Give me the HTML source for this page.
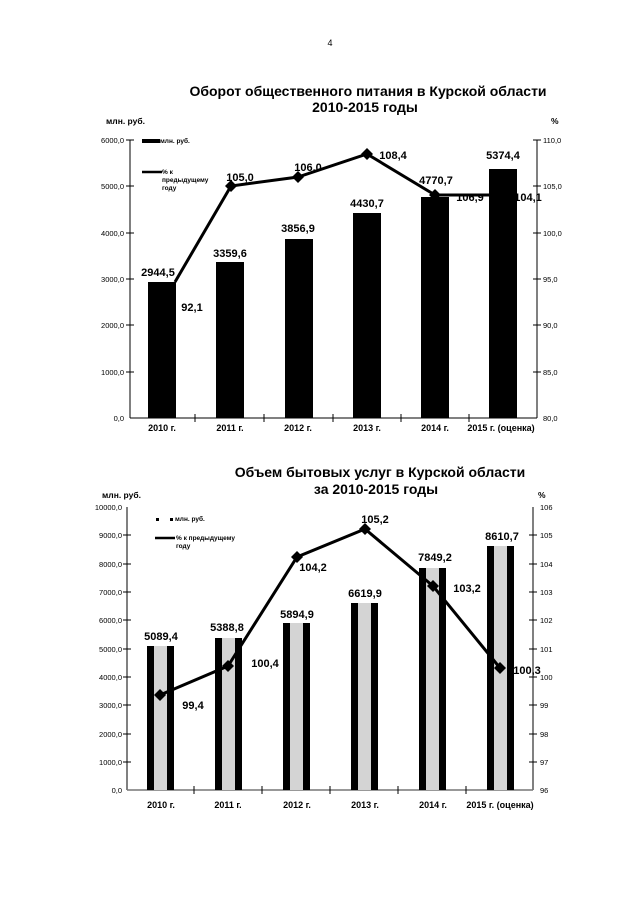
<!DOCTYPE html>
<html><head><meta charset="utf-8"><style>
html,body{margin:0;padding:0;background:#fff;}
svg{display:block;font-family:"Liberation Sans",Arial,sans-serif;}
.t{font-weight:bold;font-size:14px;text-anchor:middle;}
.ax{font-size:7.5px;}
.l{font-weight:bold;font-size:11px;text-anchor:middle;}
.c{font-weight:bold;font-size:9px;text-anchor:middle;}
</style></head><body>
<svg width="640" height="905" viewBox="0 0 640 905">
<text x="330" y="46" font-size="9" text-anchor="middle">4</text>

<!-- Chart 1 -->
<text class="t" x="368" y="96">Оборот общественного питания в Курской области</text>
<text class="t" x="365" y="112">2010-2015 годы</text>
<text x="106" y="124" font-size="8.5" font-weight="bold">млн. руб.</text>
<text x="551" y="124" font-size="8.5" font-weight="bold">%</text>
<g stroke="#000" stroke-width="1">
<line x1="130" y1="140" x2="130" y2="418"/>
<line x1="537" y1="140" x2="537" y2="418"/>
<line x1="130" y1="418" x2="537" y2="418"/>
</g>
<g class="ax" text-anchor="end">
<text x="124" y="143">6000,0</text><text x="124" y="189">5000,0</text><text x="124" y="236">4000,0</text><text x="124" y="282">3000,0</text><text x="124" y="328">2000,0</text><text x="124" y="375">1000,0</text><text x="124" y="421">0,0</text>
</g>
<g class="ax">
<text x="543" y="143">110,0</text><text x="543" y="189">105,0</text><text x="543" y="236">100,0</text><text x="543" y="282">95,0</text><text x="543" y="328">90,0</text><text x="543" y="375">85,0</text><text x="543" y="421">80,0</text>
</g>
<g stroke="#000" stroke-width="1">
<line x1="126" y1="140" x2="134" y2="140"/><line x1="126" y1="186" x2="134" y2="186"/><line x1="126" y1="233" x2="134" y2="233"/><line x1="126" y1="279" x2="134" y2="279"/><line x1="126" y1="325" x2="134" y2="325"/><line x1="126" y1="372" x2="134" y2="372"/>
<line x1="533" y1="140" x2="541" y2="140"/><line x1="533" y1="186" x2="541" y2="186"/><line x1="533" y1="233" x2="541" y2="233"/><line x1="533" y1="279" x2="541" y2="279"/><line x1="533" y1="325" x2="541" y2="325"/><line x1="533" y1="372" x2="541" y2="372"/>
<line x1="195" y1="414" x2="195" y2="422"/><line x1="264" y1="414" x2="264" y2="422"/><line x1="333" y1="414" x2="333" y2="422"/><line x1="401" y1="414" x2="401" y2="422"/><line x1="469" y1="414" x2="469" y2="422"/>
</g>
<g fill="#000">
<rect x="148" y="282" width="28" height="136"/>
<rect x="216" y="262" width="28" height="156"/>
<rect x="285" y="239" width="28" height="179"/>
<rect x="353" y="213" width="28" height="205"/>
<rect x="421" y="197" width="28" height="221"/>
<rect x="489" y="169" width="28" height="249"/>
</g>
<polyline points="175,282 231,186 298,177 367,154 435,195 505,195" fill="none" stroke="#000" stroke-width="3"/>
<g fill="#000">
<path d="M231,180 l6,6 -6,6 -6,-6z"/><path d="M298,171 l6,6 -6,6 -6,-6z"/><path d="M367,148 l6,6 -6,6 -6,-6z"/><path d="M435,189 l6,6 -6,6 -6,-6z"/>
</g>
<rect x="142" y="139" width="18" height="4" fill="#000"/>
<text x="160" y="143" font-size="6.5" font-weight="bold">млн. руб.</text>
<line x1="142" y1="172" x2="162" y2="172" stroke="#000" stroke-width="2.5"/>
<text x="162" y="174" font-size="6.5" font-weight="bold">% к</text>
<text x="162" y="182" font-size="6.5" font-weight="bold">предыдущему</text>
<text x="162" y="190" font-size="6.5" font-weight="bold">году</text>
<g class="l">
<text x="158" y="276">2944,5</text><text x="192" y="311">92,1</text>
<text x="230" y="257">3359,6</text><text x="240" y="181">105,0</text>
<text x="298" y="232">3856,9</text><text x="308" y="171">106,0</text>
<text x="367" y="207">4430,7</text><text x="393" y="159">108,4</text>
<text x="436" y="184">4770,7</text><text x="470" y="201">106,9</text>
<text x="503" y="159">5374,4</text><text x="528" y="201">104,1</text>
</g>
<g class="c">
<text x="162" y="431">2010 г.</text><text x="230" y="431">2011 г.</text><text x="298" y="431">2012 г.</text><text x="367" y="431">2013 г.</text><text x="435" y="431">2014 г.</text><text x="501" y="431">2015 г. (оценка)</text>
</g>

<!-- Chart 2 -->
<text class="t" x="380" y="477">Объем бытовых услуг в Курской области</text>
<text class="t" x="376" y="494">за 2010-2015 годы</text>
<text x="102" y="498" font-size="8.5" font-weight="bold">млн. руб.</text>
<text x="538" y="498" font-size="8.5" font-weight="bold">%</text>
<g stroke="#000" stroke-width="1">
<line x1="127" y1="507" x2="127" y2="790"/>
<line x1="533" y1="507" x2="533" y2="790"/>
<line x1="127" y1="790" x2="533" y2="790" stroke="#777" stroke-width="1.5"/>
</g>
<g class="ax" text-anchor="end">
<text x="122" y="510">10000,0</text><text x="122" y="538">9000,0</text><text x="122" y="567">8000,0</text><text x="122" y="595">7000,0</text><text x="122" y="623">6000,0</text><text x="122" y="652">5000,0</text><text x="122" y="680">4000,0</text><text x="122" y="708">3000,0</text><text x="122" y="737">2000,0</text><text x="122" y="765">1000,0</text><text x="122" y="793">0,0</text>
</g>
<g class="ax">
<text x="540" y="510">106</text><text x="540" y="538">105</text><text x="540" y="567">104</text><text x="540" y="595">103</text><text x="540" y="623">102</text><text x="540" y="652">101</text><text x="540" y="680">100</text><text x="540" y="708">99</text><text x="540" y="737">98</text><text x="540" y="765">97</text><text x="540" y="793">96</text>
</g>
<g stroke="#000" stroke-width="1">
<line x1="123" y1="535" x2="131" y2="535"/><line x1="123" y1="564" x2="131" y2="564"/><line x1="123" y1="592" x2="131" y2="592"/><line x1="123" y1="620" x2="131" y2="620"/><line x1="123" y1="649" x2="131" y2="649"/><line x1="123" y1="677" x2="131" y2="677"/><line x1="123" y1="705" x2="131" y2="705"/><line x1="123" y1="734" x2="131" y2="734"/><line x1="123" y1="762" x2="131" y2="762"/>
<line x1="529" y1="535" x2="537" y2="535"/><line x1="529" y1="564" x2="537" y2="564"/><line x1="529" y1="592" x2="537" y2="592"/><line x1="529" y1="620" x2="537" y2="620"/><line x1="529" y1="649" x2="537" y2="649"/><line x1="529" y1="677" x2="537" y2="677"/><line x1="529" y1="705" x2="537" y2="705"/><line x1="529" y1="734" x2="537" y2="734"/><line x1="529" y1="762" x2="537" y2="762"/>
<line x1="194" y1="786" x2="194" y2="794"/><line x1="262" y1="786" x2="262" y2="794"/><line x1="330" y1="786" x2="330" y2="794"/><line x1="398" y1="786" x2="398" y2="794"/><line x1="466" y1="786" x2="466" y2="794"/>
</g>
<g>
<rect x="147" y="646" width="27" height="144" fill="#d4d4d4"/><rect x="147" y="646" width="7" height="144"/><rect x="167" y="646" width="7" height="144"/>
<rect x="215" y="638" width="27" height="152" fill="#d4d4d4"/><rect x="215" y="638" width="7" height="152"/><rect x="235" y="638" width="7" height="152"/>
<rect x="283" y="623" width="27" height="167" fill="#d4d4d4"/><rect x="283" y="623" width="7" height="167"/><rect x="303" y="623" width="7" height="167"/>
<rect x="351" y="603" width="27" height="187" fill="#d4d4d4"/><rect x="351" y="603" width="7" height="187"/><rect x="371" y="603" width="7" height="187"/>
<rect x="419" y="568" width="27" height="222" fill="#d4d4d4"/><rect x="419" y="568" width="7" height="222"/><rect x="439" y="568" width="7" height="222"/>
<rect x="487" y="546" width="27" height="244" fill="#d4d4d4"/><rect x="487" y="546" width="7" height="244"/><rect x="507" y="546" width="7" height="244"/>
</g>
<polyline points="160,695 228,666 297,557 365,529 433,586 500,668" fill="none" stroke="#000" stroke-width="3"/>
<g fill="#000">
<path d="M160,689 l6,6 -6,6 -6,-6z"/><path d="M228,660 l6,6 -6,6 -6,-6z"/><path d="M297,551 l6,6 -6,6 -6,-6z"/><path d="M365,523 l6,6 -6,6 -6,-6z"/><path d="M433,580 l6,6 -6,6 -6,-6z"/><path d="M500,662 l6,6 -6,6 -6,-6z"/>
</g>
<rect x="156" y="518" width="3" height="3" fill="#000"/><rect x="170" y="518" width="3" height="3" fill="#000"/>
<text x="175" y="521" font-size="6.5" font-weight="bold">млн. руб.</text>
<line x1="155" y1="538" x2="175" y2="538" stroke="#000" stroke-width="2.5"/>
<text x="176" y="540" font-size="6.5" font-weight="bold">% к предыдущему</text>
<text x="176" y="548" font-size="6.5" font-weight="bold">году</text>
<g class="l">
<text x="161" y="640">5089,4</text><text x="193" y="709">99,4</text>
<text x="227" y="631">5388,8</text><text x="265" y="667">100,4</text>
<text x="297" y="618">5894,9</text><text x="313" y="571">104,2</text>
<text x="365" y="597">6619,9</text><text x="375" y="523">105,2</text>
<text x="435" y="561">7849,2</text><text x="467" y="592">103,2</text>
<text x="502" y="540">8610,7</text><text x="527" y="674">100,3</text>
</g>
<g class="c">
<text x="161" y="808">2010 г.</text><text x="228" y="808">2011 г.</text><text x="297" y="808">2012 г.</text><text x="365" y="808">2013 г.</text><text x="433" y="808">2014 г.</text><text x="500" y="808">2015 г. (оценка)</text>
</g>
</svg>
</body></html>
